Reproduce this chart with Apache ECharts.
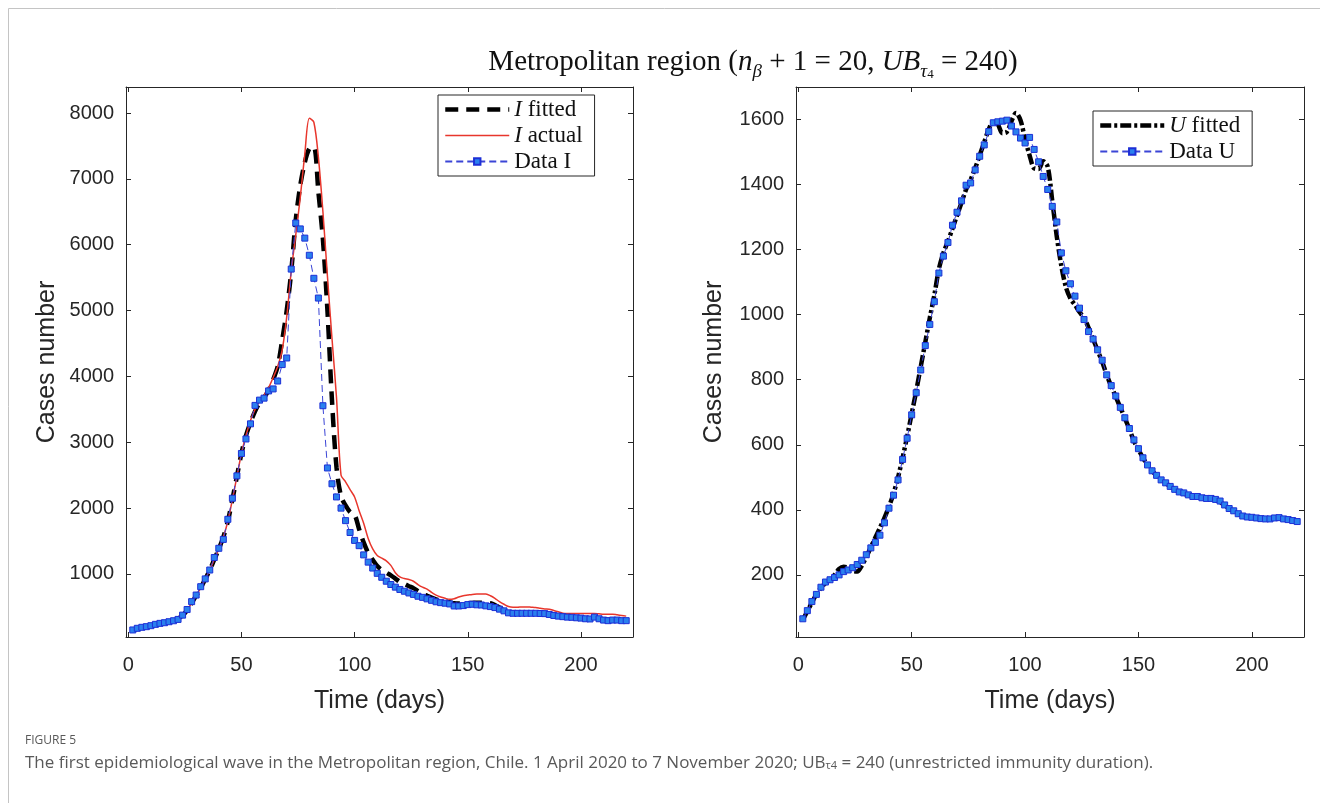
<!DOCTYPE html>
<html>
<head>
<meta charset="utf-8">
<script src="https://cdn.jsdelivr.net/npm/echarts@6/dist/echarts.min.js"></script>
<style>
html,body{margin:0;padding:0;background:#fff;}
#chart{width:1320px;height:803px;}
</style>
</head>
<body>
<div id="chart"></div>
<script>
// sample days
const days = [2,4,6,8,10,12,14,16,18,20,22,24,26,28,30,32,34,36,38,40,42,44,46,48,50,52,54,56,58,60,62,64,66,68,70,72,74,76,78,80,82,84,86,88,90,92,94,96,98,100,102,104,106,108,110,112,114,116,118,120,122,124,126,128,130,132,134,136,138,140,142,144,146,148,150,152,154,156,158,160,162,164,166,168,170,172,174,176,178,180,182,184,186,188,190,192,194,196,198,200,202,204,206,208,210,212,214,216,218,220];

// Left panel: infected
const fitI = [140,165,185,200,215,230,245,258,272,290,320,370,450,560,670,790,920,1060,1220,1380,1560,1800,2130,2480,2830,3100,3300,3470,3600,3680,3790,3950,4150,4550,5000,5590,6380,6900,7250,7460,7480,6800,6080,5000,3640,2620,2180,2040,1940,1900,1680,1480,1320,1215,1120,1060,1020,980,930,880,850,815,785,740,700,670,640,615,600,585,570,555,552,553,556,560,565,565,560,555,530,490,455,425,415,410,405,405,405,400,398,395,385,370,360,350,345,340,335,330,325,320,320,315,310,305,302,300,298,296];
const actualI = [140,165,185,200,215,230,245,258,272,290,320,370,450,560,670,790,920,1060,1220,1380,1560,1800,2130,2480,2830,3100,3330,3500,3620,3720,3830,3980,4150,4400,4900,5600,6150,6720,7380,7920,7860,7330,6500,5520,4580,3680,2500,2400,2280,2170,1960,1770,1540,1380,1280,1240,1200,1130,1020,955,930,915,890,840,800,770,720,680,650,630,615,625,650,670,680,690,695,697,695,670,630,580,540,505,495,495,500,500,495,490,480,470,465,445,425,405,400,400,400,400,400,400,400,395,390,390,390,380,370,360];
const dataI = [150,175,190,200,215,235,250,260,275,290,310,375,460,580,680,807,925,1060,1250,1390,1525,1830,2150,2490,2830,3050,3280,3560,3640,3670,3780,3810,3930,4180,4280,5630,6330,6240,6100,5840,5490,5190,3555,2610,2370,2170,2000,1810,1630,1510,1430,1290,1180,1090,1010,950,890,840,800,765,738,712,690,662,645,622,600,578,565,556,545,514,514,520,535,540,532,529,516,505,490,466,440,410,403,403,403,403,403,403,400,398,385,370,360,352,345,342,335,330,320,317,345,320,300,291,300,300,291,291];

// Right panel: U
const fitU = [62,88,115,140,160,175,185,200,218,225,222,212,210,228,255,285,315,345,375,410,450,500,560,625,695,765,840,915,990,1060,1140,1190,1225,1265,1305,1345,1385,1415,1450,1490,1530,1570,1592,1585,1558,1562,1595,1620,1598,1540,1490,1450,1448,1472,1455,1350,1240,1150,1085,1050,1030,1008,990,960,925,890,855,815,780,748,715,682,648,612,585,560,538,520,505,492,482,472,463,455,450,446,442,440,438,436,434,430,424,414,404,396,388,382,378,376,375,373,372,372,374,375,372,370,367,364];
const dataU = [65,90,118,140,162,178,185,192,200,210,215,222,232,245,262,283,300,322,360,405,445,492,555,620,692,760,830,905,970,1040,1128,1180,1222,1275,1315,1350,1398,1405,1445,1487,1522,1563,1590,1593,1595,1598,1580,1562,1543,1528,1545,1508,1470,1425,1385,1333,1285,1190,1135,1095,1057,1020,985,948,925,892,860,815,782,750,715,683,650,615,588,560,538,520,506,492,483,472,463,455,452,446,441,441,437,435,435,432,427,415,404,397,388,381,378,377,375,373,372,372,375,376,372,370,367,364];

// tick labels
const xTicks = [0,50,100,150,200];
const yTicksI = [1000,2000,3000,4000,5000,6000,7000,8000];
const yTicksU = [200,400,600,800,1000,1200,1400,1600];

const pair = arr => days.map((d,i)=>[d,arr[i]]);

const AX = '#262626';
const sans = 'Liberation Sans, Arial, sans-serif';
const serif = 'Liberation Serif, Times New Roman, serif';

function xAx(gi, pos, show){
  return {type:'value', gridIndex:gi, position:pos, min:-1, max:223,
    axisLine:{show:true, onZero:false, lineStyle:{color:AX,width:1}},
    axisTick:{show:true, inside:true, length:5, customValues:xTicks, lineStyle:{color:AX}},
    axisLabel:{show:show, customValues:xTicks, margin:18, fontSize:20, color:AX, fontFamily:sans, formatter:v=>String(v)},
    splitLine:{show:false},
    name: show ? 'Time (days)' : '', nameLocation:'middle', nameGap:52,
    nameTextStyle:{fontSize:25, color:AX, fontFamily:sans}};
}
function yAx(gi, pos, show, mn, mx, ticks, gap){
  return {type:'value', gridIndex:gi, position:pos, min:mn, max:mx,
    axisLine:{show:true, onZero:false, lineStyle:{color:AX,width:1}},
    axisTick:{show:true, inside:true, length:5, customValues:ticks, lineStyle:{color:AX}},
    axisLabel:{show:show, customValues:ticks, margin:12, fontSize:20, color:AX, fontFamily:sans, formatter:v=>String(v)},
    splitLine:{show:false},
    name: show ? 'Cases number' : '', nameLocation:'middle', nameGap:gap, nameRotate:90,
    nameTextStyle:{fontSize:25, color:AX, fontFamily:sans}};
}

const dataStyle = {
  type:'line', symbol:'rect', symbolSize:6,
  lineStyle:{color:'#3b45d6', width:1, type:[7,4]},
  itemStyle:{color:'#2a80ee', borderColor:'#1d2fd6', borderWidth:1},
  z:4
};

const legendCommon = {
  orient:'vertical', selectedMode:false, backgroundColor:'#fff',
  borderColor:AX, borderWidth:1, borderRadius:0, padding:[3,12,3,5], itemGap:3,
  itemWidth:64, itemHeight:8,
  textStyle:{fontFamily:serif, fontSize:23, color:'#111', lineHeight:23,
    rich:{i:{fontFamily:serif, fontSize:23, fontStyle:'italic', color:'#111', lineHeight:23}}},
  formatter: n => n.replace(/^([IU]) /, '{i|$1} ')
};
const hideSym = {opacity:0};

const option = {
  backgroundColor:'#fff',
  animation:false,
  grid:[
    {left:126, top:87, width:507, height:550},
    {left:796, top:87, width:508, height:550}
  ],
  xAxis:[xAx(0,'bottom',true), xAx(0,'top',false), xAx(1,'bottom',true), xAx(1,'top',false)],
  yAxis:[yAx(0,'left',true,43,8395,yTicksI,66), yAx(0,'right',false,43,8395,yTicksI,0),
         yAx(1,'left',true,9,1700,yTicksU,69), yAx(1,'right',false,9,1700,yTicksU,0)],
  legend:[
    Object.assign({}, legendCommon, {left:438, top:95,
      data:[{name:'I fitted', itemStyle:hideSym, lineStyle:{width:4.5, color:'#000', type:[13,8]}},
            {name:'I actual', itemStyle:hideSym, lineStyle:{width:1.5, color:'#e8362c'}},
            'Data I']}),
    Object.assign({}, legendCommon, {left:1093, top:111,
      data:[{name:'U fitted', itemStyle:hideSym, lineStyle:{width:4.5, color:'#000', type:[11,3,3,3]}}, 'Data U']})
  ],
  series:[
    {name:'I fitted', type:'line', xAxisIndex:0, yAxisIndex:0, data:pair(fitI), symbol:'none', smooth:0.3,
     lineStyle:{color:'#000', width:4.5, type:[14,8]}, itemStyle:{color:'#000'}, z:2},
    {name:'I actual', type:'line', xAxisIndex:0, yAxisIndex:0, data:pair(actualI), symbol:'none', smooth:0.3,
     lineStyle:{color:'#e8362c', width:1.5}, itemStyle:{color:'#e8362c'}, z:3},
    Object.assign({name:'Data I', xAxisIndex:0, yAxisIndex:0, data:pair(dataI)}, dataStyle),
    {name:'U fitted', type:'line', xAxisIndex:2, yAxisIndex:2, data:pair(fitU), symbol:'none', smooth:0.3,
     lineStyle:{color:'#000', width:4.5, type:[11,3,3,3]}, itemStyle:{color:'#000'}, z:2},
    Object.assign({name:'Data U', xAxisIndex:2, yAxisIndex:2, data:pair(dataU)}, dataStyle)
  ],
  graphic:[
    {type:'rect', shape:{x:8.5, y:8.5, width:1400, height:900}, style:{fill:'none', stroke:'#c4c4c4', lineWidth:1}, silent:true, z:-10},
    {type:'text', x:753, y:62, style:{
      text:'Metropolitan region ({it|n}{sub|β} + 1 = 20, {it|UB}{sub|τ}{sub2|4} = 240)',
      align:'center', verticalAlign:'middle', fill:'#111',
      font:'29px ' + serif,
      rich:{
        it:{fontFamily:serif, fontSize:29, fontStyle:'italic', lineHeight:38, verticalAlign:'middle'},
        sub:{fontFamily:serif, fontSize:19, fontStyle:'italic', lineHeight:16, verticalAlign:'bottom'},
        sub2:{fontFamily:serif, fontSize:13, lineHeight:11, verticalAlign:'bottom'}
      }
    }},
    {type:'text', x:25, y:741, style:{text:'FIGURE 5', fill:'#595959', font:'12px Open Sans, sans-serif', verticalAlign:'middle'}},
    {type:'text', x:25, y:763, style:{
      text:'The first epidemiological wave in the Metropolitan region, Chile. 1 April 2020 to 7 November 2020; UB{s|τ4} = 240 (unrestricted immunity duration).',
      fill:'#595959', font:'17px Open Sans, sans-serif', verticalAlign:'middle',
      rich:{s:{fontFamily:'Open Sans, sans-serif', fontSize:11, fill:'#595959', lineHeight:10, verticalAlign:'bottom'}}
    }}
  ]
};

const chart = echarts.init(document.getElementById('chart'), null, {renderer:'canvas'});
chart.setOption(option);
</script>
</body>
</html>
